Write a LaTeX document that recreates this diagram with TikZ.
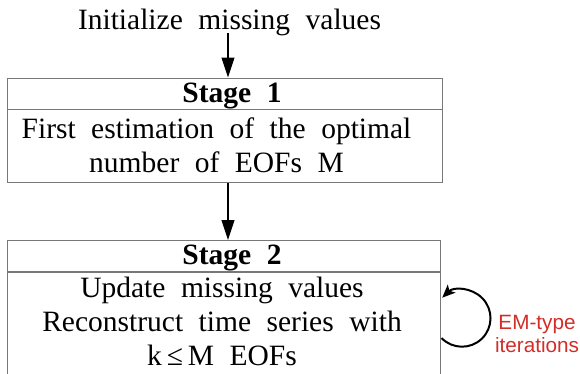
\documentclass[tikz,border=0pt]{standalone}
\usepackage{fontspec}
\setmainfont{Liberation Serif}[WordSpace=2.1]
\newfontfamily\labelsans{Liberation Sans}
\usetikzlibrary{arrows.meta}
\definecolor{boxgray}{RGB}{120,120,120}
\definecolor{emred}{RGB}{210,45,40}
\tikzset{
  txt/.style={inner sep=0pt, anchor=base, font=\fontsize{29.5}{34}\selectfont, align=center},
  head/.style={txt, font=\fontsize{29.5}{34}\selectfont\bfseries},
  stagebox/.style={draw=boxgray, line width=1.3pt, inner sep=0pt, anchor=north west},
  flow/.style={line width=1.1pt, -{Triangle[length=20pt,width=13pt]}},
  loopy/.style={line width=2pt, -{Stealth[length=13pt,width=11pt,inset=3pt]}},
  note/.style={inner sep=0pt, anchor=base, text=emred, align=center,
    font=\labelsans\fontsize{20.7}{23}\selectfont}
}
\begin{document}
\begin{tikzpicture}[x=1pt,y=-1pt]
\useasboundingbox (0,0) rectangle (580,373);
\clip (0,0) rectangle (580,373);

% starting step
\node[txt] (init) at (229.5,29) {Initialize missing values};

% stage 1 (multi-line nodes are placed by the baseline of their last line)
\node[stagebox, minimum width=435pt, minimum height=104pt] (s1) at (7,77.5) {};
\draw[boxgray, line width=1.3pt] (s1.west |- 0,109.5) -- (s1.east |- 0,109.5);
\node[head] (h1) at (232,102) {Stage 1};
\node[txt] (b1) at (216.5,172) {First estimation of the optimal\\number of EOFs M};

% stage 2, running off the bottom edge
\node[stagebox, minimum width=433pt, minimum height=160pt] (s2) at (7,240) {};
\draw[boxgray, line width=1.3pt] (s2.west |- 0,272) -- (s2.east |- 0,272);
\node[head] (h2) at (232,264) {Stage 2};
\node[txt] (b2) at (222,365) {Update missing values\\Reconstruct time series with\\k\,≤\,M EOFs};

% connectors
\coordinate (a1) at (228,33);
\draw[flow] (a1) -- (a1 |- s1.north);
\coordinate (a2) at (228,0);
\draw[flow] (a2 |- s1.south) -- (a2 |- s2.north);

% EM iteration loop on the right side of stage 2
\coordinate (lp) at (441.5,338);
\draw[loopy] (lp) arc[start angle=136, end angle=-134, radius=28.5];
\node[note] (em) at (537,352) {EM-type\\iterations};
\end{tikzpicture}
\end{document}
